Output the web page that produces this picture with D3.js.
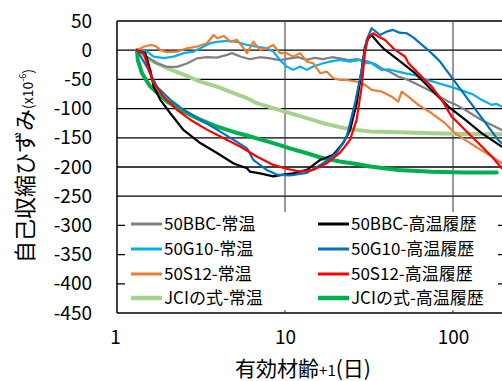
<!DOCTYPE html>
<html>
<head>
<meta charset="utf-8">
<script src="https://cdn.jsdelivr.net/npm/d3@7"></script>
<style>
  html, body { margin: 0; padding: 0; background: #fff; }
  svg { display: block; font-family: "Noto Sans CJK JP", "Noto Sans", sans-serif; }
</style>
</head>
<body>
<svg id="chart" width="502" height="381"></svg>
<script>
// Autogenous shrinkage (x10^-6) vs effective age + 1 (days), log time axis

const yTicks = [50, 0, -50, -100, -150, -200, -250, -300, -350, -400, -450];
const xTicks = [1, 10, 100];

// [effective age + 1 (days), strain (x10^-6)]
const bbcNormal = [[1.315,0],[1.509,-11.5],[1.73,-22.8],[1.984,-28.6],[2.275,-28.6],[2.61,-22.8],[2.99,-14],[3.43,-12],[3.94,-12.7],[4.52,-8],[4.84,-5],[5.42,-10.8],[6.19,-15.4],[7.1,-12],[8.14,-14],[9.3,-17],[10.7,-14],[12.0,-12],[13.5,-16.6],[15.0,-13],[16.9,-15.4],[19.0,-12],[21.2,-14],[24.0,-17],[26.7,-15.4],[31.3,-19.5],[34.5,-24],[37.6,-30.8],[42.0,-37],[47.2,-45],[53.0,-50],[59.4,-56.5],[66.0,-63],[74.7,-70.9],[84.0,-80],[93.8,-88],[105,-94],[118,-102],[132,-111],[148,-119.5],[170,-128],[195,-136.5]];

const g10Normal = [[1.315,0],[1.509,-2.4],[1.653,-11],[1.896,-13.7],[2.17,-11],[2.494,-5],[2.86,-2.4],[3.28,6.2],[3.59,12],[3.94,14.2],[4.52,16],[5.18,14.2],[5.94,9],[6.79,6.2],[7.78,3.4],[8.52,-2.4],[9.33,-16.6],[10.2,-28],[11.2,-33.7],[12.3,-28],[13.5,-33.7],[14.7,-28],[16.9,-22.3],[18.5,-19.5],[21.2,-16.6],[24.4,-19.5],[27.9,-16.6],[29.9,-22.3],[32.8,-22.3],[37.6,-34],[42.0,-33],[47.2,-36.8],[53.0,-40],[59.4,-42.6],[65.1,-48],[102.8,-65],[118,-70.9],[132,-76],[148,-85],[170,-93.6],[182,-92],[195,-96.6]];

const s12Normal = [[1.315,0],[1.442,6],[1.578,9],[1.69,7.4],[1.81,0.5],[1.984,-3.4],[2.275,-2.4],[2.61,3.4],[2.99,6.2],[3.43,12],[3.76,26],[3.94,20.4],[4.32,24.4],[4.73,14.6],[5.18,17.6],[5.68,3.4],[5.94,-5],[6.48,14.6],[7.1,0.5],[7.78,3.4],[8.52,9],[9.33,-5],[10.2,-5],[11.2,-11],[12.3,-5],[13.5,-19.5],[14.7,-22.3],[16.2,-39.4],[17.7,-36.6],[19.4,-48],[21.2,-51],[23.3,-51],[26.7,-53.7],[29.9,-59.4],[32.8,-68],[37.6,-70.9],[43.2,-79.6],[47.2,-88],[49.5,-70.9],[54.2,-79.6],[62.2,-93.6],[74.7,-108],[89.6,-125],[102.8,-142],[118,-153.6],[141.5,-168],[170,-182],[195,-193.6]];

const bbcHeated = [[1.315,0],[1.473,-5],[1.578,-34],[1.653,-62.6],[1.81,-85],[2.076,-108],[2.494,-137],[3.13,-159],[3.94,-176],[4.95,-194],[5.94,-202],[6.19,-208],[7.1,-211],[8.52,-216],[9.77,-213],[11.2,-211],[13.5,-205],[16.2,-188],[19.4,-179],[22.2,-159],[24.4,-137],[26.7,-91],[28.6,-34],[29.9,6],[31.3,20],[32.8,26],[36.0,12],[39.4,0.5],[47.2,-16.6],[59.4,-39.4],[74.7,-68],[93.8,-96.6],[118,-119],[148,-142],[195,-165]];

const g10Heated = [[1.315,0],[1.545,-34],[1.73,-62.6],[2.076,-85],[2.494,-102],[3.13,-119],[3.94,-136],[4.95,-153.6],[5.94,-168],[6.48,-188],[7.78,-205],[8.93,-213],[10.7,-214.5],[13.5,-210],[16.9,-193.6],[20.3,-176],[23.3,-148],[26.1,-91],[28.6,-34],[30.6,17.6],[32.8,37.6],[36.8,26],[40.2,31.8],[44.1,34.8],[48.0,30],[53,29],[58.0,22],[63.6,12],[70.0,2],[76.3,-8],[83.7,-19.5],[186,-154],[195,-159]];

const s12Heated = [[1.315,0],[1.442,-5],[1.545,-34],[1.653,-56.7],[1.896,-79.6],[2.275,-102],[2.73,-119],[3.43,-136],[4.32,-150.7],[5.4,-165],[6.79,-182],[8.52,-196.4],[10.2,-203],[12.3,-208],[14.7,-205],[17.7,-193.6],[21.2,-176],[24.4,-153.6],[26.7,-119],[28.6,-62.3],[29.9,-5],[31.3,23.3],[33.6,29],[35.9,23.3],[39.4,17.6],[45.2,0.5],[51.8,-10.8],[54.2,-22],[59.4,-33.7],[68.1,-50.9],[74.7,-62.3],[85.7,-85],[98.2,-113.7],[107.7,-125],[118,-136.5],[141.5,-159],[170,-182],[195,-202]];

const jciNormal = [[1.315,0],[1.578,-16.6],[1.984,-30.6],[2.494,-42],[3.13,-53.7],[3.94,-62.3],[4.95,-73.6],[5.94,-82],[6.79,-90.7],[8.52,-99.3],[10.7,-107.7],[13.5,-116.4],[16.9,-125],[21.2,-131.8],[26.7,-136.5],[32.1,-139],[47.2,-140.4],[74.7,-142],[118,-143.4],[195,-143.8]];

const jciHeated = [[1.315,0],[1.33,-17],[1.408,-39.4],[1.578,-62.3],[1.984,-87.9],[2.494,-105],[3.13,-119],[3.94,-130.8],[4.95,-140],[5.94,-146],[6.79,-151],[8.52,-159],[10.7,-168],[13.5,-176.4],[16.9,-185],[21.2,-190.7],[26.7,-195],[32.1,-199],[47.2,-205],[74.7,-208],[118,-209.6],[182,-209.6]];

const seriesNames = ["50BBC-常温", "50G10-常温", "50S12-常温", "JCIの式-常温",
                     "50BBC-高温履歴", "50G10-高温履歴", "50S12-高温履歴", "JCIの式-高温履歴"];

const series = [
  { name: seriesNames[0], data: bbcNormal, color: "#808080", width: 2.2 },
  { name: seriesNames[1], data: g10Normal, color: "#00B0F0", width: 2.2 },
  { name: seriesNames[2], data: s12Normal, color: "#ED7D31", width: 2.2 },
  { name: seriesNames[3], data: jciNormal, color: "#A9D18E", width: 4 },
  { name: seriesNames[4], data: bbcHeated, color: "#000000", width: 2.2 },
  { name: seriesNames[5], data: g10Heated, color: "#0070C0", width: 2.2 },
  { name: seriesNames[6], data: s12Heated, color: "#FF0000", width: 2.2 },
  { name: seriesNames[7], data: jciHeated, color: "#00B050", width: 4 }
];

// drawing order (back to front)
const drawOrder = [3, 7, 0, 1, 2, 4, 5, 6];

const svg = d3.select("#chart");
const plotLeft = 117, plotTop = 21, plotBottom = 313;

const x = d3.scaleLog().domain([1, 1000]).range([plotLeft, plotLeft + 3 * 168]);
const y = d3.scaleLinear().domain([-450, 50]).range([plotBottom, plotTop]);

const plot = svg.append("g");

// horizontal gridlines
plot.append("g").selectAll("line").data(yTicks).join("line")
  .attr("x1", plotLeft).attr("x2", 502)
  .attr("y1", d => y(d)).attr("y2", d => y(d))
  .attr("stroke", "#000").attr("stroke-width", 1.3);

// vertical gridlines
plot.append("g").selectAll("line").data(xTicks.slice(1)).join("line")
  .attr("x1", d => x(d)).attr("x2", d => x(d))
  .attr("y1", plotTop).attr("y2", plotBottom)
  .attr("stroke", "#333").attr("stroke-width", 1);

// left axis line
plot.append("line").attr("x1", plotLeft).attr("x2", plotLeft)
  .attr("y1", plotTop).attr("y2", plotBottom)
  .attr("stroke", "#000").attr("stroke-width", 1.5);

// plain hyphen for negative numbers
const plainNum = d => String(d);

// y axis tick labels
const yAxis = d3.axisLeft(y).tickValues(yTicks).tickSize(0).tickPadding(25).tickFormat(plainNum);
const yg = svg.append("g").attr("transform", `translate(${plotLeft},0)`).call(yAxis);
yg.select(".domain").remove();
yg.selectAll("text").attr("font-size", 19).attr("fill", "#000")
  .attr("font-family", "'Noto Sans CJK JP', sans-serif");

// x axis tick labels
const xAxis = d3.axisBottom(x).tickValues(xTicks).tickSize(0).tickPadding(18).tickFormat(plainNum);
const xg = svg.append("g").attr("transform", `translate(0,${plotBottom})`).call(xAxis);
xg.select(".domain").remove();
xg.selectAll("text").attr("font-size", 19).attr("fill", "#000")
  .attr("font-family", "'Noto Sans CJK JP', sans-serif");
xg.selectAll(".tick").filter(d => d === 1).select("text").attr("dx", -2);

// data lines
const line = d3.line().x(d => x(d[0])).y(d => y(d[1]));
const lines = svg.append("g").attr("stroke-linejoin", "round").attr("stroke-linecap", "round");
drawOrder.forEach(i => {
  const s = series[i];
  lines.append("path").datum(s.data)
    .attr("d", line)
    .attr("fill", "none")
    .attr("stroke", s.color)
    .attr("stroke-width", s.width);
});

// legend
const legend = svg.append("g");
legend.append("rect").attr("x", 125).attr("y", 212).attr("width", 373).attr("height", 98).attr("fill", "#fff");
const colX = [131, 318];
const rowY = [224, 249, 274, 298];
series.forEach((s, i) => {
  const c = Math.floor(i / 4), r = i % 4;
  const g = legend.append("g").attr("transform", `translate(${colX[c]},${rowY[r]})`);
  g.append("line").attr("x1", 0).attr("x2", 31).attr("y1", 0).attr("y2", 0)
    .attr("stroke", s.color).attr("stroke-width", s.width === 4 ? 4.5 : 3);
  g.append("text").attr("x", 33).attr("y", 0).attr("dy", "0.36em")
    .attr("font-size", 17).attr("fill", "#000").text(s.name);
});

// axis titles
const yTitle = svg.append("text")
  .attr("transform", "translate(33,166) rotate(-90)")
  .attr("text-anchor", "middle").attr("fill", "#000");
yTitle.append("tspan").attr("font-size", 22).text("自己収縮ひずみ");
yTitle.append("tspan").attr("font-size", 14).text("(x10");
yTitle.append("tspan").attr("font-size", 9).attr("dy", -7).text("-6");
yTitle.append("tspan").attr("font-size", 14).attr("dy", 7).text(")");

const xTitle = svg.append("text")
  .attr("x", 303).attr("y", 376)
  .attr("text-anchor", "middle").attr("fill", "#000");
xTitle.append("tspan").attr("font-size", 21).text("有効材齢");
xTitle.append("tspan").attr("font-size", 15).text("+1");
xTitle.append("tspan").attr("font-size", 21).text("(日)");
</script>
</body>
</html>
